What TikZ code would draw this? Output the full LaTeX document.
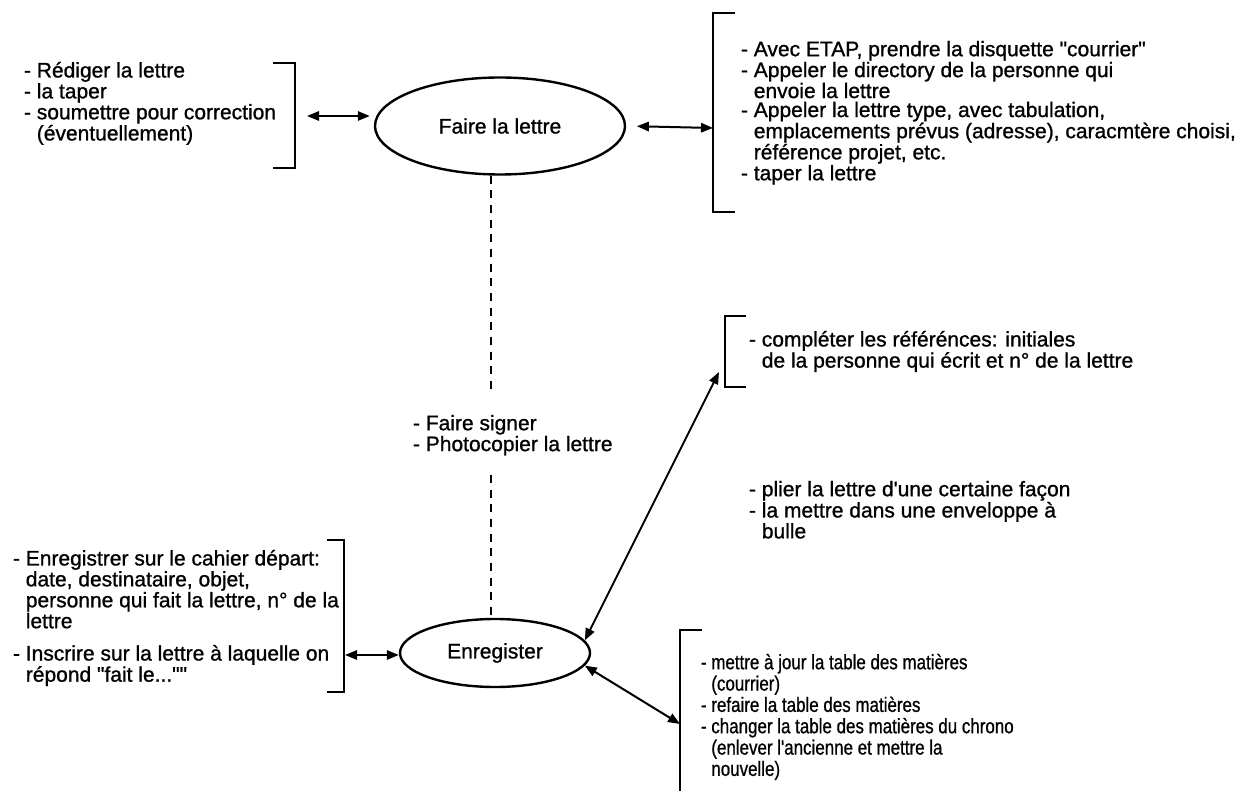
\documentclass[tikz,border=0pt]{standalone}
\usepackage{fontspec}
\newfontfamily\lsans{Liberation Sans}[FakeBold=1]
\newfontfamily\lnarrow{Liberation Sans}[FakeStretch=0.82,FakeBold=0.8]
\usetikzlibrary{shapes.geometric,arrows.meta}
\newcommand{\tiret}{\hphantom{-\ }}

\begin{document}
\begin{tikzpicture}[x=0.75pt,y=-0.75pt,>={Triangle[length=9pt,width=7pt]},line width=1.5pt,
    task/.style={ellipse,draw,line width=1.8pt,font=\lsans\fontsize{15.75}{18}\selectfont},
    note/.style={anchor=north west,inner sep=0pt,align=left,font=\lsans\fontsize{15.75}{14.25}\selectfont},
    notenarrow/.style={note,font=\lnarrow\fontsize{15.5}{16}\selectfont},
    brk/.style={line width=1.6pt},
    pointille/.style={dash pattern=on 6pt off 5pt,line width=1.5pt}]

    \useasboundingbox (0,0) rectangle (1254,791);

    \path
    (500,126) node[task,minimum width=187.5pt,minimum height=72.75pt] (F) {Faire la lettre}
    (495,653) node[task,minimum width=142.5pt,minimum height=51pt] (E) {Enregister};

    \node[note] (n1) at (23,61) {- Rédiger la lettre\\- la taper\\- soumettre pour correction\\\tiret(éventuellement)};
    \node[note] (n2) at (740,40) {- Avec ETAP, prendre la disquette "courrier"\\- Appeler le directory de la personne qui\\\tiret envoie la lettre\\- Appeler la lettre type, avec tabulation,\\\tiret emplacements prévus (adresse), caracmtère choisi,\\\tiret référence projet, etc.\\- taper la lettre};
    \node[note] (n3) at (748,330) {- compléter les référénces: initiales\\\tiret de la personne qui écrit et n° de la lettre};
    \node[note] (n4) at (748,480) {- plier la lettre d'une certaine façon\\- la mettre dans une enveloppe à\\\tiret bulle};
    \node[note] (n5) at (412,414) {- Faire signer\\- Photocopier la lettre};
    \node[note] (n6) at (12,549) {- Enregistrer sur le cahier départ:\\\tiret date, destinataire, objet,\\\tiret personne qui fait la lettre, n° de la\\\tiret lettre\\[10pt]- Inscrire sur la lettre à laquelle on\\\tiret répond "fait le...""};
    \node[notenarrow] (n7) at (700,653) {- mettre à jour la table des matières\\\tiret(courrier)\\- refaire la table des matières\\- changer la table des matières du chrono\\\tiret(enlever l'ancienne et mettre la\\\tiret nouvelle)};

    % crochets
    \draw[brk] (273,63) -- (295,63) -- (295,168) -- (273,168);
    \draw[brk] (735,13) -- (713,13) -- (713,212) -- (735,212);
    \draw[brk] (746,316) -- (725,316) -- (725,387) -- (746,387);
    \draw[brk] (327,540) -- (344,540) -- (344,692) -- (327,692);
    \draw[brk] (702,630) -- (680,630) -- (680,795);

    % liaisons
    \coordinate (d1) at (491,390);
    \coordinate (d2) at (491,475);
    \draw[pointille] (F.south -| d1) -- (d1);
    \draw[pointille] (d2) -- (E.north -| d2);

    \coordinate (p1) at (307,116);
    \coordinate (q1) at (713,128);
    \coordinate (p3) at (345,655);
    \coordinate (q3) at (719,372);
    \coordinate (q4) at (680,724);
    \draw[<->,shorten >=3pt] (p1) -- (F.west |- p1);
    \draw[<->,shorten <=8pt] (F.east) -- (q1);
    \draw[<->] (p3) -- (E.west |- p3);
    \draw[<->] (E.8) -- (q3);
    \draw[<->] (E.-8) -- (q4);

\end{tikzpicture}
\end{document}
